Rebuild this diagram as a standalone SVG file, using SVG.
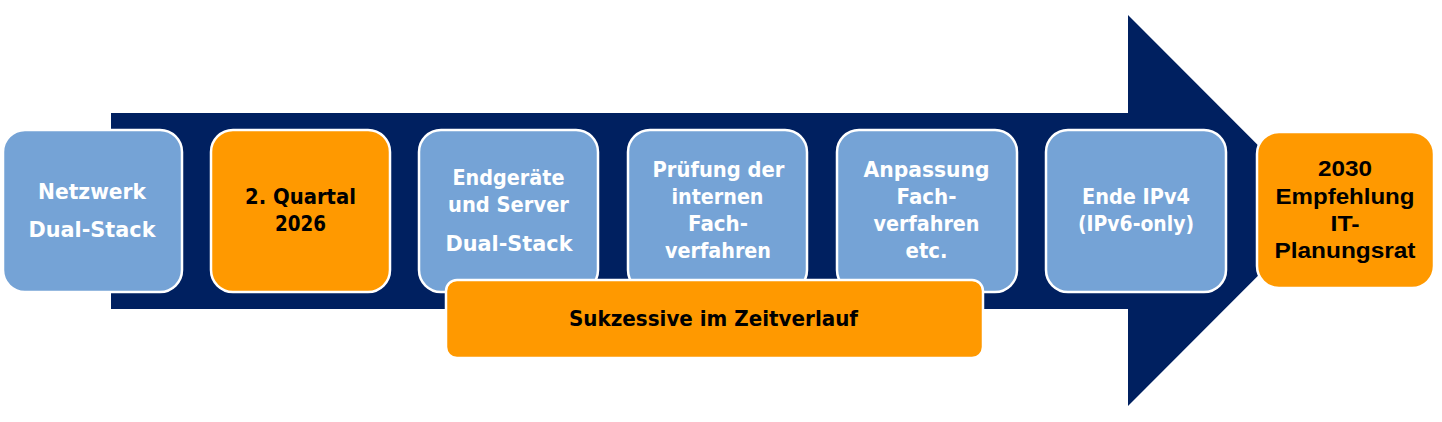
<svg xmlns="http://www.w3.org/2000/svg" width="1442" height="422" viewBox="0 0 1442 422">
  <style>
    .blue { fill: #75A3D6; stroke: #FFFFFF; stroke-width: 2.5; }
    .orange { fill: #FF9900; stroke: #FFFFFF; stroke-width: 2.5; }
    .tw { font-family: "DejaVu Sans", "Verdana", sans-serif; font-weight: bold; font-size: 21px; fill: #FFFFFF; text-anchor: middle; }
    .tb { font-family: "DejaVu Sans", "Verdana", sans-serif; font-weight: bold; font-size: 21px; fill: #000000; text-anchor: middle; }
    .ta { font-family: "Liberation Sans", Arial, sans-serif; font-weight: bold; font-size: 22px; fill: #000000; text-anchor: middle; }
  </style>
  <rect width="1442" height="422" fill="#FFFFFF"/>
  <g id="connectors">
    <polygon id="timeline-arrow" points="111,113 1128,113 1128,15 1323,210.5 1128,406 1128,309 111,309" fill="#002060"/>
  </g>
  <g id="node-netzwerk">
    <rect class="blue" x="3" y="130" width="179" height="162" rx="22"/>
    <text class="tw" x="92" y="198.5" textLength="108" lengthAdjust="spacingAndGlyphs">Netzwerk</text>
    <text class="tw" x="92" y="236.5" textLength="127" lengthAdjust="spacingAndGlyphs">Dual-Stack</text>
  </g>
  <g id="node-quartal">
    <rect class="orange" x="211" y="130" width="179" height="162" rx="22"/>
    <text class="tb" x="300.5" y="204" textLength="111" lengthAdjust="spacingAndGlyphs">2. Quartal</text>
    <text class="tb" x="300.5" y="230.5" textLength="51" lengthAdjust="spacingAndGlyphs">2026</text>
  </g>
  <g id="node-endgeraete">
    <rect class="blue" x="419" y="130" width="179" height="162" rx="22"/>
    <text class="tw" x="508.5" y="185" textLength="112" lengthAdjust="spacingAndGlyphs">Endgeräte</text>
    <text class="tw" x="508.5" y="212" textLength="121" lengthAdjust="spacingAndGlyphs">und Server</text>
    <text class="tw" x="509" y="250.5" textLength="127" lengthAdjust="spacingAndGlyphs">Dual-Stack</text>
  </g>
  <g id="node-pruefung">
    <rect class="blue" x="628" y="130" width="179" height="162" rx="22"/>
    <text class="tw" x="718.5" y="176.5" textLength="132" lengthAdjust="spacingAndGlyphs">Prüfung der</text>
    <text class="tw" x="717.5" y="203.5" textLength="92" lengthAdjust="spacingAndGlyphs">internen</text>
    <text class="tw" x="718" y="230.5" textLength="60" lengthAdjust="spacingAndGlyphs">Fach-</text>
    <text class="tw" x="718" y="257.5" textLength="106" lengthAdjust="spacingAndGlyphs">verfahren</text>
  </g>
  <g id="node-anpassung">
    <rect class="blue" x="837" y="130" width="180" height="162" rx="22"/>
    <text class="tw" x="926.5" y="176.5" textLength="126" lengthAdjust="spacingAndGlyphs">Anpassung</text>
    <text class="tw" x="926.5" y="203.5" textLength="60" lengthAdjust="spacingAndGlyphs">Fach-</text>
    <text class="tw" x="926.5" y="230.5" textLength="106" lengthAdjust="spacingAndGlyphs">verfahren</text>
    <text class="tw" x="926.5" y="257.5" textLength="42" lengthAdjust="spacingAndGlyphs">etc.</text>
  </g>
  <g id="node-ende-ipv4">
    <rect class="blue" x="1046" y="130" width="180" height="162" rx="22"/>
    <text class="tw" x="1136" y="203.5" textLength="108" lengthAdjust="spacingAndGlyphs">Ende IPv4</text>
    <text class="tw" x="1136" y="230.5" textLength="116" lengthAdjust="spacingAndGlyphs">(IPv6-only)</text>
  </g>
  <g id="node-2030">
    <rect class="orange" x="1257" y="132" width="177" height="156" rx="22" stroke-width="1.5"/>
    <text class="ta" x="1345" y="176" textLength="54" lengthAdjust="spacingAndGlyphs">2030</text>
    <text class="ta" x="1345" y="203.5" textLength="139" lengthAdjust="spacingAndGlyphs">Empfehlung</text>
    <text class="ta" x="1345" y="231" textLength="29" lengthAdjust="spacingAndGlyphs">IT-</text>
    <text class="ta" x="1345" y="258" textLength="141" lengthAdjust="spacingAndGlyphs">Planungsrat</text>
  </g>
  <g id="node-sukzessive">
    <rect class="orange" x="446" y="280" width="537" height="78" rx="11" stroke-width="2"/>
    <text class="tb" x="713.5" y="326" textLength="289" lengthAdjust="spacingAndGlyphs">Sukzessive im Zeitverlauf</text>
  </g>
</svg>
